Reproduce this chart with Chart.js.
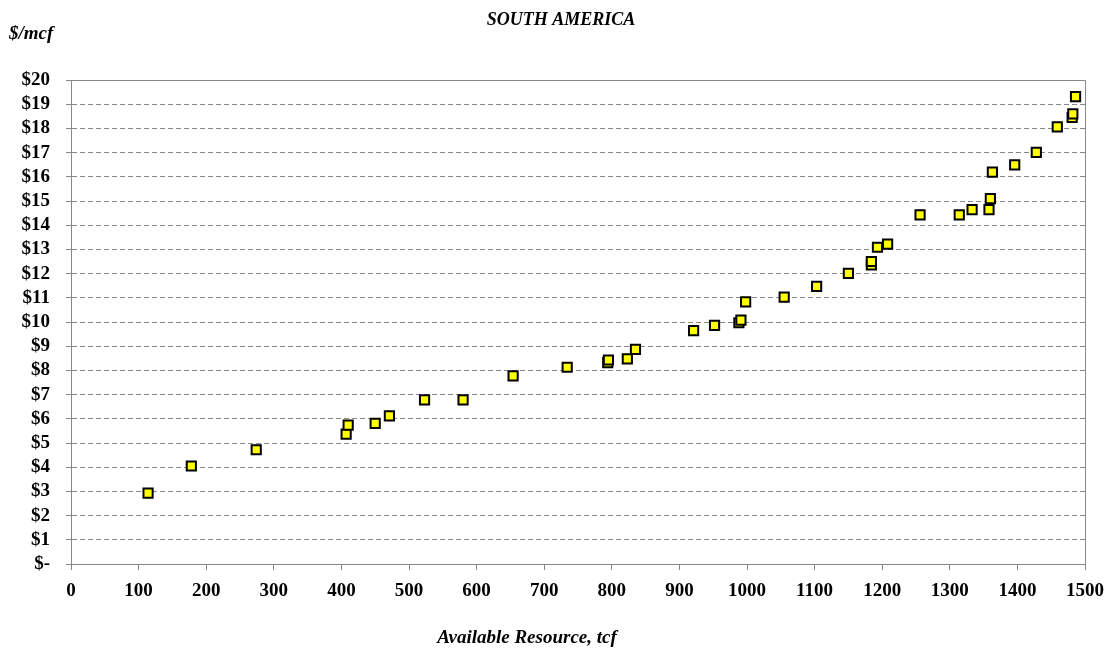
<!DOCTYPE html>
<html>
<head>
<meta charset="utf-8">
<script src="https://cdn.jsdelivr.net/npm/chart.js@4.4.0/dist/chart.umd.min.js"></script>
<style>
  html, body { margin: 0; padding: 0; background: #fff; }
  #wrap { width: 1110px; height: 652px; position: relative; }
</style>
</head>
<body>
<div id="wrap"><canvas id="supplyChart"></canvas></div>
<script>
// Available resource (tcf) and cost ($/mcf)
const resourceTcf = [114, 178, 274, 407, 410, 450, 471, 523, 580, 654, 734, 794, 795, 823, 835,
    921, 952, 988, 991, 998, 1055, 1103, 1150, 1184, 1184, 1193, 1208, 1256, 1314, 1333,
    1358, 1360, 1363, 1396, 1428, 1459, 1481, 1482, 1486];
const priceUsd = [2.93, 4.05, 4.72, 5.37, 5.74, 5.81, 6.12, 6.78, 6.78, 7.77, 8.13, 8.32, 8.43, 8.48, 8.87,
    9.64, 9.86, 9.97, 10.08, 10.83, 11.03, 11.47, 12.01, 12.36, 12.5, 13.09, 13.22, 14.43, 14.43, 14.64,
    14.64, 15.1, 16.19, 16.49, 17.01, 18.06, 18.45, 18.6, 19.31];

const chartTitle = 'SOUTH AMERICA';
const yAxisTitle = '$/mcf';
const xAxisTitle = 'Available Resource, tcf';

const serif = '"Liberation Serif", "Times New Roman", serif';

// frame on top/right plus the free-standing titles
const decorations = {
    id: 'decorations',
    afterDraw(chart) {
        const { ctx, chartArea: a } = chart;
        ctx.save();
        ctx.strokeStyle = '#888';
        ctx.lineWidth = 1;
        ctx.setLineDash([]);
        ctx.beginPath();
        ctx.moveTo(a.left, a.top + 0.5);
        ctx.lineTo(a.right + 0.5, a.top + 0.5);
        ctx.lineTo(a.right + 0.5, a.bottom);
        ctx.stroke();

        ctx.fillStyle = '#000';
        ctx.textBaseline = 'middle';
        ctx.font = 'italic bold 18px ' + serif;
        ctx.textAlign = 'center';
        ctx.fillText(chartTitle, 561, 20);
        ctx.font = 'italic bold 19px ' + serif;
        ctx.textAlign = 'left';
        ctx.fillText(yAxisTitle, 9, 34);
        ctx.textAlign = 'center';
        ctx.fillText(xAxisTitle, 527, 638);
        ctx.restore();
    }
};

const ctx = document.getElementById('supplyChart').getContext('2d');
new Chart(ctx, {
    type: 'scatter',
    data: {
        datasets: [{
            data: resourceTcf.map((x, i) => ({ x: x, y: priceUsd[i] })),
            pointStyle: 'rect',
            pointRadius: 6.5,
            pointHoverRadius: 6.5,
            backgroundColor: '#ffff00',
            borderColor: '#000',
            borderWidth: 2
        }]
    },
    options: {
        responsive: true,
        maintainAspectRatio: false,
        animation: false,
        layout: { padding: { top: 80, right: 0, left: 0, bottom: 0 } },
        plugins: {
            legend: { display: false },
            tooltip: { enabled: false }
        },
        scales: {
            x: {
                type: 'linear',
                min: 0,
                max: 1500,
                afterFit: scale => { scale.height = 88; scale.paddingRight = 25; },
                ticks: {
                    stepSize: 100,
                    autoSkip: false,
                    maxRotation: 0,
                    color: '#000',
                    padding: 10,
                    font: { family: serif, size: 19, weight: 'bold' },
                    callback: v => String(v)
                },
                grid: { drawOnChartArea: false, drawTicks: true, tickLength: 6, color: '#888' },
                border: { color: '#888', width: 1 }
            },
            y: {
                min: 0,
                max: 20,
                afterFit: scale => { scale.width = 71; },
                ticks: {
                    stepSize: 1,
                    autoSkip: false,
                    color: '#000',
                    padding: 16,
                    font: { family: serif, size: 19, weight: 'bold' },
                    callback: v => v === 0 ? '$-' : '$' + v
                },
                grid: { color: '#888', tickLength: 5, tickBorderDash: [] },
                border: { color: '#888', width: 1, dash: [5, 3] }
            }
        }
    },
    plugins: [decorations]
});
</script>
</body>
</html>
